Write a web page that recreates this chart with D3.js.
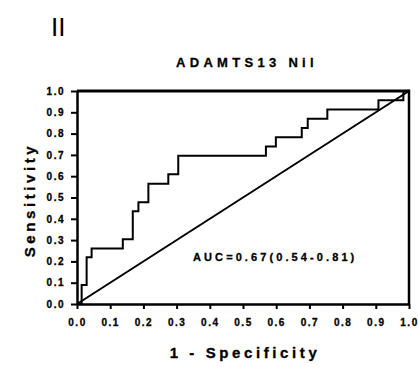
<!DOCTYPE html>
<html>
<head>
<meta charset="utf-8">
<script src="https://cdn.jsdelivr.net/npm/d3@7"></script>
<style>
  body { margin: 0; background: #fff; }
  svg text { font-family: "Liberation Sans", Arial, sans-serif; fill: #000; }
</style>
</head>
<body>
<svg width="418" height="367"></svg>
<script>
// ROC corner points (1 - specificity, sensitivity)
const fpr = [0, 0.014, 0.029, 0.044, 0.138, 0.168, 0.185, 0.215, 0.275, 0.305,
             0.569, 0.599, 0.677, 0.695, 0.754, 0.908, 0.983, 1.0];
const tpr = [0, 0.089, 0.219, 0.261, 0.304, 0.435, 0.478, 0.565, 0.609, 0.696,
             0.739, 0.783, 0.826, 0.870, 0.913, 0.957, 1.0, 1.0];
const tickVals = [0, 0.1, 0.2, 0.3, 0.4, 0.5, 0.6, 0.7, 0.8, 0.9, 1.0];
const panelLabel = "II";
const title = "ADAMTS13 Nil";
const aucLabel = "AUC=0.67(0.54-0.81)";
const xTitle = "1 - Specificity";
const yTitle = "Sensitivity";

const svg = d3.select("svg");
const x = d3.scaleLinear().domain([0, 1]).range([77, 409]);
const y = d3.scaleLinear().domain([0, 1]).range([304, 91]);

// frame top / right
svg.append("line").attr("x1", x(0)).attr("x2", x(1)).attr("y1", y(1)).attr("y2", y(1))
  .attr("stroke", "#000").attr("stroke-width", 3);
svg.append("line").attr("x1", x(1)).attr("x2", x(1)).attr("y1", y(1) - 1.5).attr("y2", y(0))
  .attr("stroke", "#000").attr("stroke-width", 2.5);

// chance line
svg.append("line").attr("x1", x(0)).attr("y1", y(0)).attr("x2", x(1)).attr("y2", y(1))
  .attr("stroke", "#000").attr("stroke-width", 2);

// ROC step curve
const pts = fpr.map((d, i) => [d, tpr[i]]);
svg.append("path")
  .attr("d", d3.line().x(d => x(d[0])).y(d => y(d[1])).curve(d3.curveStepAfter)(pts))
  .attr("fill", "none").attr("stroke", "#000").attr("stroke-width", 2);

// axes
const fmt = d3.format(".1f");
const gx = svg.append("g").attr("transform", `translate(0,${y(0)})`)
  .call(d3.axisBottom(x).tickValues(tickVals).tickFormat(fmt).tickSize(5).tickSizeOuter(0).tickPadding(10));
const gy = svg.append("g").attr("transform", `translate(${x(0)},0)`)
  .call(d3.axisLeft(y).tickValues(tickVals).tickFormat(fmt).tickSize(6).tickSizeOuter(0).tickPadding(6));
[gx, gy].forEach(g => {
  g.select(".domain").attr("stroke-width", 2.5);
  g.selectAll(".tick line").attr("stroke-width", 2);
  g.selectAll("text").attr("font-size", 10).attr("font-weight", "bold")
    .attr("letter-spacing", 1.5).attr("stroke", "#000").attr("stroke-width", 0.3)
    .attr("font-family", "Liberation Sans, Arial, sans-serif");
});

// texts
svg.append("text").attr("x", 51).attr("y", 36).attr("font-size", 26).text(panelLabel);
svg.append("text").attr("x", 247).attr("y", 67).attr("text-anchor", "middle")
  .attr("font-size", 13).attr("font-weight", "bold").attr("letter-spacing", 4.3)
  .attr("stroke", "#000").attr("stroke-width", 0.3).text(title);
svg.append("text").attr("x", 193).attr("y", 261)
  .attr("font-size", 11).attr("font-weight", "bold").attr("letter-spacing", 3.1)
  .attr("stroke", "#000").attr("stroke-width", 0.3).text(aucLabel);
svg.append("text").attr("x", 245).attr("y", 358).attr("text-anchor", "middle")
  .attr("font-size", 15).attr("font-weight", "bold").attr("letter-spacing", 3.6)
  .attr("stroke", "#000").attr("stroke-width", 0.3).text(xTitle);
svg.append("text").attr("transform", "translate(35,200) rotate(-90)").attr("text-anchor", "middle")
  .attr("font-size", 15).attr("font-weight", "bold").attr("letter-spacing", 3.6)
  .attr("stroke", "#000").attr("stroke-width", 0.3).text(yTitle);
</script>
</body>
</html>
